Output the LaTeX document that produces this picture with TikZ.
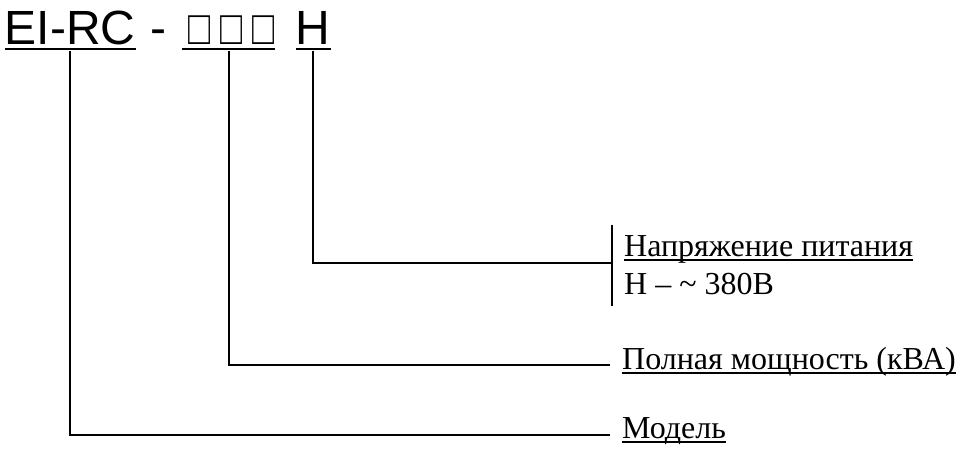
\documentclass[tikz,border=0pt]{standalone}
\usepackage{fontspec}
\usepackage{graphicx}
\setmainfont{Liberation Serif}
\newfontfamily\codefont{Liberation Sans}
\usetikzlibrary{positioning}
\newcommand{\ulbar}[1]{\setbox0\hbox{#1}\rlap{\vrule height -2pt depth 3.5pt width \wd0}\box0}
\newcommand{\slot}{\scalebox{0.76}[1]{□}}

\begin{document}
\begin{tikzpicture}[x=0.75pt, y=0.75pt, node distance=10pt, line width=1.3pt,
  code/.style={inner sep=0pt, font=\codefont\fontsize{36}{40}\selectfont},
  desc/.style={inner xsep=8.5pt, inner ysep=7.5pt, font=\fontsize{24}{28.5}\selectfont}]
  \useasboundingbox (0,0) rectangle (961,-453);
  \node[code, anchor=base west]  (model) at (4,-45) {\ulbar{EI-RC}};
  \node[code, base right=of model] (dash)  {-};
  \node[code, base right=10.5pt of dash] (power) {\ulbar{\kern4.5pt\slot\kern7.5pt\slot\kern7.5pt\slot\kern0.8pt}};
  \node[code, base right=14pt of power]  (volt)  {\ulbar{H}};

  \node[desc, align=left, anchor=west] (lblvolt)  at (612,-265) {\ulbar{Напряжение питания}\\H – \textasciitilde{} 380В};
  \node[desc, anchor=base west]        (lblpower) at (610,-369) {\ulbar{Полная мощность (кВА)}};
  \node[desc, anchor=base west]        (lblmodel) at (610,-438) {\ulbar{Модель}};

  \draw (lblvolt.north west) -- (lblvolt.south west);
  \draw (volt.south)  |- ([yshift=1.5pt]lblvolt.west);
  \draw (power.south) |- ([yshift=3pt]lblpower.base west);
  \draw (model.south) |- ([yshift=2pt]lblmodel.base west);
\end{tikzpicture}
\end{document}
